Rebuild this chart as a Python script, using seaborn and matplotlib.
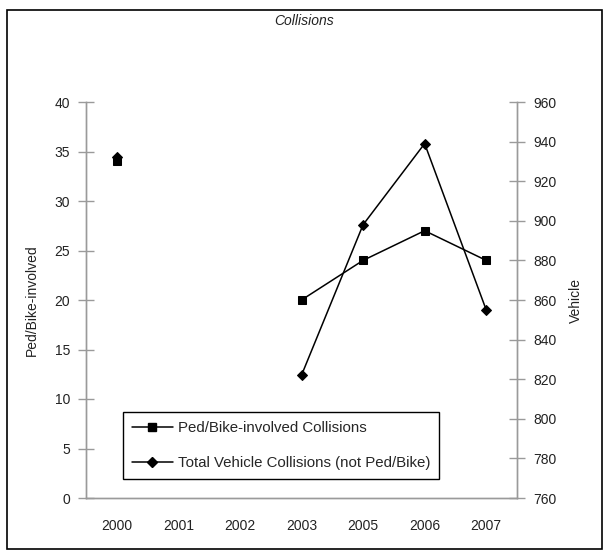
import numpy as np
import pandas as pd
import matplotlib
matplotlib.use('Agg')
import matplotlib.pyplot as plt
import seaborn as sns
from matplotlib.lines import Line2D
from matplotlib.patches import Rectangle

# data
years = ['2000', '2001', '2002', '2003', '2005', '2006', '2007']
ped_bike = [34, np.nan, np.nan, 20, 24, 27, 24]
vehicle = [932, np.nan, np.nan, 822, 898, 939, 855]

left_ticks = list(range(0, 45, 5))
right_ticks = list(range(760, 980, 20))

df = pd.DataFrame({'year': years, 'pos': range(len(years)),
                   'ped': ped_bike, 'veh': vehicle})
# segment ids so gaps (missing years) are not joined
df['ped_seg'] = df['ped'].isna().cumsum()
df['veh_seg'] = df['veh'].isna().cumsum()

sns.set_style('white')
plt.rcParams['font.family'] = ['Liberation Sans', 'DejaVu Sans']
plt.rcParams['font.size'] = 10

fig = plt.figure(figsize=(6.08, 5.57), dpi=100)
ax = fig.add_axes([86/608, 1 - 498/557, 431/608, 396/557])
ax2 = ax.twinx()

sns.lineplot(data=df.dropna(subset=['ped']), x='pos', y='ped', units='ped_seg',
             estimator=None, ax=ax, color='black', lw=1.1, marker='s',
             markersize=5.5, markeredgecolor='black', legend=False)
sns.lineplot(data=df.dropna(subset=['veh']), x='pos', y='veh', units='veh_seg',
             estimator=None, ax=ax2, color='black', lw=1.1, marker='D',
             markersize=5.5, markeredgecolor='black', legend=False)

grey = '#9a9a9a'
txt = '#222222'

ax.set_xlim(-0.5, len(years) - 0.5)
ax.set_ylim(0, 40)
ax2.set_ylim(760, 960)
ax.set_yticks(left_ticks)
ax2.set_yticks(right_ticks)

# ticks on the category boundaries, labels on the centres
ax.set_xticks(np.arange(-0.5, len(years)), labels=[''] * (len(years) + 1))
ax.set_xticks(range(len(years)), labels=years, minor=True)
ax.tick_params(axis='x', which='major', direction='inout', length=11,
               color=grey, width=1)
ax.tick_params(axis='x', which='minor', length=0, pad=15, labelsize=10,
               labelcolor=txt)
ax.tick_params(axis='y', direction='inout', length=11, color=grey, width=1,
               pad=6, labelsize=10, labelcolor=txt)
ax2.tick_params(axis='y', direction='inout', length=11, color=grey, width=1,
                pad=6, labelsize=10, labelcolor=txt)

for a in (ax, ax2):
    a.spines['top'].set_visible(False)
    for s in ('left', 'right', 'bottom'):
        a.spines[s].set_color(grey)
        a.spines[s].set_linewidth(1)
    a.set_xlabel('')
    a.grid(False)

ax.set_ylabel('Ped/Bike-involved', fontsize=10, color=txt)
ax.yaxis.set_label_coords((39 - 86) / 431, 0.5)
ax2.set_ylabel('Vehicle', fontsize=10, color=txt)
ax2.yaxis.set_label_coords((569 - 86) / 431, 0.5)

fig.text(0.5, 1 - 21/557, 'Collisions', ha='center', va='center',
         style='italic', fontsize=10, color=txt)

handles = [Line2D([], [], color='black', lw=1.1, marker='s', markersize=5.5),
           Line2D([], [], color='black', lw=1.1, marker='D', markersize=5.5)]
leg = ax2.legend(handles, ['Ped/Bike-involved Collisions',
                           'Total Vehicle Collisions (not Ped/Bike)'],
                 loc='lower left', bbox_to_anchor=(0.086, 0.048),
                 borderaxespad=0, frameon=True, fancybox=False,
                 edgecolor='black', handlelength=2.7, handletextpad=0.35,
                 labelspacing=1.4, borderpad=0.6, fontsize=10.8,
                 framealpha=1)
leg.get_frame().set_linewidth(1)

fig.patches.append(Rectangle((7/608, 1 - 549/557), 595/608, 539/557,
                             transform=fig.transFigure, fill=False,
                             edgecolor='black', lw=1.2))

plt.savefig('out.png', dpi=100)
